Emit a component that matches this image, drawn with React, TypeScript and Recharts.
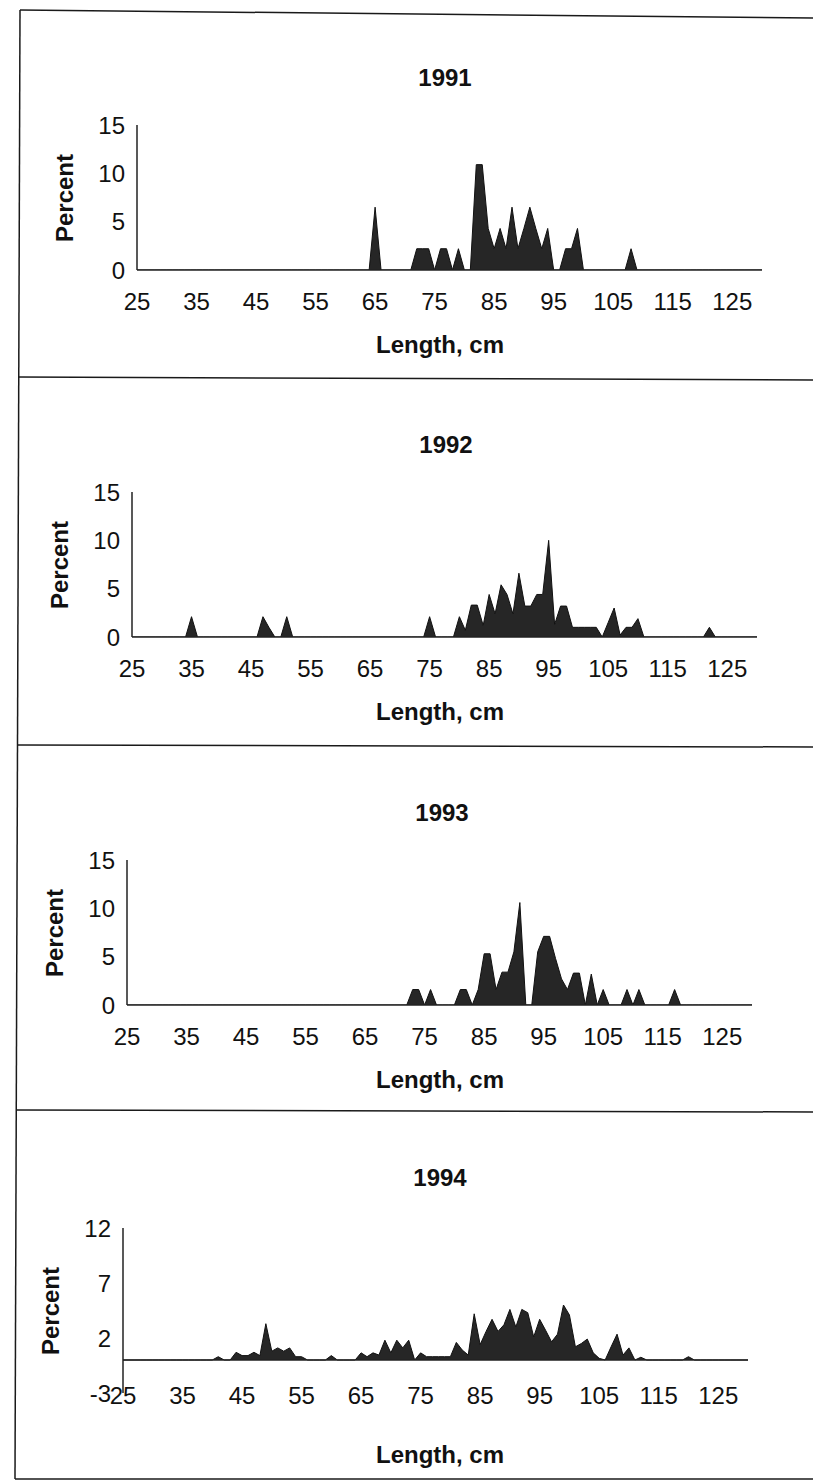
import React from 'react';
import { AreaChart, Area, XAxis, YAxis, ReferenceLine } from 'recharts';

// Length classes (cm)
const lengths = [
  25, 26, 27, 28, 29, 30, 31, 32, 33, 34,
  35, 36, 37, 38, 39, 40, 41, 42, 43, 44,
  45, 46, 47, 48, 49, 50, 51, 52, 53, 54,
  55, 56, 57, 58, 59, 60, 61, 62, 63, 64,
  65, 66, 67, 68, 69, 70, 71, 72, 73, 74,
  75, 76, 77, 78, 79, 80, 81, 82, 83, 84,
  85, 86, 87, 88, 89, 90, 91, 92, 93, 94,
  95, 96, 97, 98, 99, 100, 101, 102, 103, 104,
  105, 106, 107, 108, 109, 110, 111, 112, 113, 114,
  115, 116, 117, 118, 119, 120, 121, 122, 123, 124,
  125, 126, 127, 128, 129, 130,
];

// Percent by length class
const pct1991 = [
  0, 0, 0, 0, 0, 0, 0, 0, 0, 0,
  0, 0, 0, 0, 0, 0, 0, 0, 0, 0,
  0, 0, 0, 0, 0, 0, 0, 0, 0, 0,
  0, 0, 0, 0, 0, 0, 0, 0, 0, 0,
  6.5, 0, 0, 0, 0, 0, 0, 2.2, 2.2, 2.2,
  0, 2.2, 2.2, 0, 2.2, 0, 0, 10.9, 10.9, 4.3,
  2.2, 4.3, 2.2, 6.5, 2.2, 4.3, 6.5, 4.3, 2.2, 4.3,
  0, 0, 2.2, 2.2, 4.3, 0, 0, 0, 0, 0,
  0, 0, 0, 2.2, 0, 0, 0, 0, 0, 0,
  0, 0, 0, 0, 0, 0, 0, 0, 0, 0,
  0, 0, 0, 0, 0, 0,
];

const pct1992 = [
  0, 0, 0, 0, 0, 0, 0, 0, 0, 0,
  2.1, 0, 0, 0, 0, 0, 0, 0, 0, 0,
  0, 0, 2.1, 1.0, 0, 0, 2.1, 0, 0, 0,
  0, 0, 0, 0, 0, 0, 0, 0, 0, 0,
  0, 0, 0, 0, 0, 0, 0, 0, 0, 0,
  2.1, 0, 0, 0, 0, 2.1, 0.7, 3.3, 3.3, 1.2,
  4.4, 2.4, 5.4, 4.4, 2.4, 6.6, 3.2, 3.2, 4.4, 4.4,
  10.0, 1.3, 3.2, 3.2, 1.0, 1.0, 1.0, 1.0, 1.0, 0,
  1.5, 3.0, 0.2, 1.0, 1.0, 1.9, 0, 0, 0, 0,
  0, 0, 0, 0, 0, 0, 0, 1.0, 0, 0,
  0, 0, 0, 0, 0, 0,
];

const pct1993 = [
  0, 0, 0, 0, 0, 0, 0, 0, 0, 0,
  0, 0, 0, 0, 0, 0, 0, 0, 0, 0,
  0, 0, 0, 0, 0, 0, 0, 0, 0, 0,
  0, 0, 0, 0, 0, 0, 0, 0, 0, 0,
  0, 0, 0, 0, 0, 0, 0, 0, 1.6, 1.6,
  0, 1.6, 0, 0, 0, 0, 1.6, 1.6, 0, 1.6,
  5.3, 5.3, 1.6, 3.4, 3.4, 5.5, 10.6, 0, 0, 5.5,
  7.1, 7.1, 4.8, 2.7, 1.6, 3.3, 3.3, 0, 3.2, 0,
  1.6, 0, 0, 0, 1.6, 0, 1.6, 0, 0, 0,
  0, 0, 1.6, 0, 0, 0, 0, 0, 0, 0,
  0, 0, 0, 0, 0, 0,
];

const pct1994 = [
  0, 0, 0, 0, 0, 0, 0, 0, 0, 0,
  0, 0, 0, 0, 0, 0, 0.3, 0, 0, 0.7,
  0.4, 0.4, 0.7, 0.4, 3.3, 0.8, 1.1, 0.8, 1.1, 0.3,
  0.3, 0, 0, 0, 0, 0.4, 0, 0, 0, 0,
  0.65, 0.3, 0.65, 0.45, 1.8, 0.65, 1.8, 1.1, 1.8, 0,
  0.65, 0.3, 0.3, 0.3, 0.3, 0.3, 1.6, 0.9, 0.45, 4.2,
  1.4, 2.6, 3.7, 2.6, 3.2, 4.6, 3.0, 4.6, 4.3, 2.1,
  3.7, 2.7, 1.65, 2.35, 5.0, 4.1, 1.2, 1.5, 1.9, 0.65,
  0.15, 0, 1.2, 2.35, 0.45, 1.1, 0, 0.25, 0, 0,
  0, 0, 0, 0, 0, 0.3, 0, 0, 0, 0,
  0, 0, 0, 0, 0, 0,
];

const years = ['1991', '1992', '1993', '1994'];
const xTicks = [25, 35, 45, 55, 65, 75, 85, 95, 105, 115, 125];
const yTicksPct = [0, 5, 10, 15];
const yTicks1994 = [-3, 2, 7, 12];
const xTitle = 'Length, cm';
const yTitle = 'Percent';

const FONT = '"Liberation Sans", Arial, Helvetica, sans-serif';
const INK = '#111';
const CHART_W = 800;
const CHART_H = 367;
const PLOT_W = 625;

const panels = [
  { year: years[0], series: pct1991, top: 10, axisX: 137, plotTop: 115, plotBottom: 260, xTickOff: 31, domain: [0, 15], ticks: yTicksPct, zeroLine: false, titleX: 445, xTitleY: 335 },
  { year: years[1], series: pct1992, top: 377, axisX: 132, plotTop: 115, plotBottom: 260, xTickOff: 31, domain: [0, 15], ticks: yTicksPct, zeroLine: false, titleX: 446, xTitleY: 335 },
  { year: years[2], series: pct1993, top: 745, axisX: 127, plotTop: 115, plotBottom: 260, xTickOff: 31, domain: [0, 15], ticks: yTicksPct, zeroLine: false, titleX: 442, xTitleY: 335 },
  { year: years[3], series: pct1994, top: 1110, axisX: 123, plotTop: 118, plotBottom: 283, xTickOff: 2, domain: [-3, 12], ticks: yTicks1994, zeroLine: true, titleX: 440, xTitleY: 345 },
];

function makeXTick(off: number) {
  return (props: any) => {
    const { x, y, payload } = props;
    return (
      <text x={x} y={y + off} dy="0.36em" textAnchor="middle" fontSize={24} fontFamily={FONT} fill={INK}>
        {payload.value}
      </text>
    );
  };
}

const YTick = (props: any) => {
  const { x, y, payload } = props;
  return (
    <text x={x - 12} y={y} dy="0.36em" textAnchor="end" fontSize={24} fontFamily={FONT} fill={INK}>
      {payload.value}
    </text>
  );
};

const textBase: React.CSSProperties = {
  position: 'absolute',
  fontFamily: FONT,
  color: INK,
  whiteSpace: 'nowrap',
  lineHeight: 1,
  fontWeight: 'bold',
  fontSize: 24,
};

function Panel({ p }: { p: (typeof panels)[number] }) {
  const data = lengths.map((len, i) => ({ len, v: p.series[i] }));
  const margin = {
    top: p.plotTop,
    bottom: CHART_H - p.plotBottom - 30,
    left: p.axisX - 60,
    right: CHART_W - p.axisX - PLOT_W,
  };
  return (
    <div style={{ position: 'absolute', left: 0, top: p.top, width: CHART_W, height: CHART_H }}>
      <AreaChart width={CHART_W} height={CHART_H} data={data} margin={margin}>
        <XAxis
          dataKey="len"
          type="number"
          domain={[25, 130]}
          ticks={xTicks}
          interval={0}
          allowDataOverflow
          height={30}
          tickSize={0}
          tickMargin={0}
          tickLine={false}
          axisLine={p.zeroLine ? false : { stroke: '#222', strokeWidth: 1.5 }}
          tick={makeXTick(p.xTickOff)}
        />
        <YAxis
          type="number"
          domain={p.domain}
          ticks={p.ticks}
          interval={0}
          allowDataOverflow
          width={60}
          tickSize={0}
          tickMargin={0}
          tickLine={false}
          axisLine={{ stroke: '#222', strokeWidth: 1.5 }}
          tick={YTick}
        />
        <Area
          type="linear"
          dataKey="v"
          baseValue={0}
          fill="#262626"
          fillOpacity={1}
          stroke="#111"
          strokeWidth={1}
          dot={false}
          activeDot={false}
          isAnimationActive={false}
        />
        {p.zeroLine ? <ReferenceLine y={0} stroke="#222" strokeWidth={1.5} /> : null}
      </AreaChart>
      <div style={{ ...textBase, left: p.titleX, top: 68, transform: 'translate(-50%, -50%)' }}>{p.year}</div>
      <div
        style={{
          ...textBase,
          left: p.axisX - 72,
          top: (p.plotTop + p.plotBottom) / 2,
          transform: 'translate(-50%, -50%) rotate(-90deg)',
        }}
      >
        {yTitle}
      </div>
      <div style={{ ...textBase, left: 440, top: p.xTitleY, transform: 'translate(-50%, -50%)' }}>{xTitle}</div>
    </div>
  );
}

export default function App() {
  return (
    <div style={{ position: 'absolute', left: 0, top: 0, width: 813, height: 1483, background: '#fff', overflow: 'hidden' }}>
      {panels.map((p) => (
        <Panel key={p.year} p={p} />
      ))}
      <svg width={813} height={1483} style={{ position: 'absolute', left: 0, top: 0, pointerEvents: 'none' }}>
        <g stroke="#1a1a1a" strokeWidth={1.5} fill="none">
          <line x1={20} y1={10} x2={813} y2={18} />
          <line x1={20} y1={10} x2={15} y2={1479} />
          <line x1={18} y1={377} x2={813} y2={380} />
          <line x1={17} y1={745} x2={813} y2={747} />
          <line x1={16} y1={1110} x2={813} y2={1112} />
          <line x1={15} y1={1479} x2={813} y2={1479} />
        </g>
      </svg>
    </div>
  );
}
